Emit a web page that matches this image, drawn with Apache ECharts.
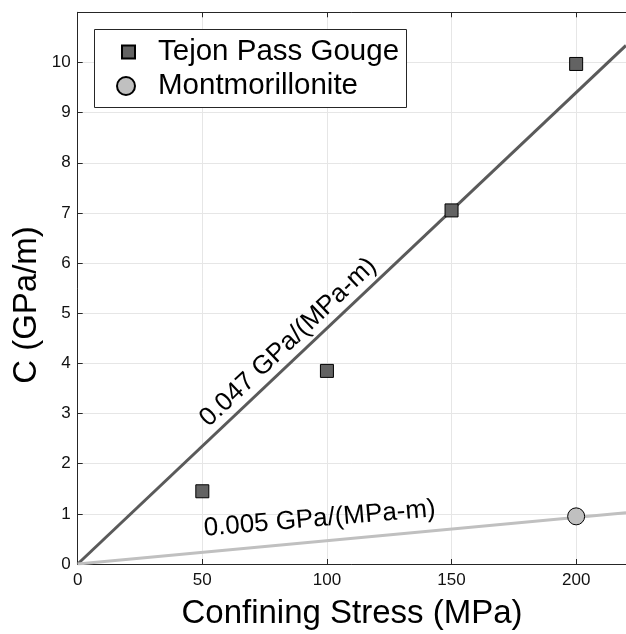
<!DOCTYPE html>
<html>
<head>
<meta charset="utf-8">
<script src="https://cdn.jsdelivr.net/npm/echarts@6/dist/echarts.min.js"></script>
<style>
html,body{margin:0;padding:0;background:#fff;}
#chart{width:626px;height:634px;}
</style>
</head>
<body>
<div id="chart"></div>
<script>
// ---- data ----
const tejonStress = [50, 100, 150, 200];
const tejonC = [1.45, 3.85, 7.05, 9.97];
const montStress = [200];
const montC = [0.95];
const fitStress = [0, 220];
const fitTejon = [0, 10.34];
const fitMont = [0, 1.02];
const seriesNames = ['Tejon Pass Gouge', 'Montmorillonite'];
const slopeLabelText = ['0.047 GPa/(MPa-m)', '0.005 GPa/(MPa-m)'];
const slopeLabelAnchor = [[84.5, 4.42], [97.1, 0.9]]; // data coords of label centres
const slopeLabelAngle = [43.5, 4.8];
const xTitle = 'Confining Stress (MPa)';
const yTitle = 'C (GPa/m)';

const FONT = "'Liberation Sans', Arial, Helvetica, sans-serif";
const AX = '#262626';

const chart = echarts.init(document.getElementById('chart'), null, {renderer: 'canvas'});

const zip = (a, b) => a.map((v, i) => [v, b[i]]);

const option = {
  animation: false,
  backgroundColor: '#fff',
  textStyle: {fontFamily: FONT},
  grid: {left: 77.7, top: 12.3, bottom: 70, right: -4.3, containLabel: false},
  xAxis: [{
    type: 'value', min: 0, max: 220, interval: 50,
    axisLine: {show: true, onZero: false, lineStyle: {color: AX, width: 1}},
    axisTick: {show: true, inside: true, length: 5, lineStyle: {color: AX}},
    axisLabel: {show: true, showMaxLabel: false, color: '#111', fontSize: 17, fontFamily: FONT, margin: 8},
    splitLine: {show: true, lineStyle: {color: '#e6e6e6', width: 1}}
  }, {
    type: 'value', position: 'top', min: 0, max: 220, interval: 50,
    axisLine: {show: true, onZero: false, lineStyle: {color: AX, width: 1}},
    axisTick: {show: true, inside: true, length: 5, lineStyle: {color: AX}},
    axisLabel: {show: false},
    splitLine: {show: false}
  }],
  yAxis: [{
    type: 'value', min: 0, max: 11, interval: 1,
    axisLine: {show: true, onZero: false, lineStyle: {color: AX, width: 1}},
    axisTick: {show: true, inside: true, length: 5, lineStyle: {color: AX}},
    axisLabel: {show: true, showMaxLabel: false, color: '#111', fontSize: 17, fontFamily: FONT, margin: 7},
    splitLine: {show: true, lineStyle: {color: '#e6e6e6', width: 1}}
  }],
  legend: [{
    data: [seriesNames[0]],
    left: 121, top: 37, padding: 0,
    itemWidth: 13, itemHeight: 13,
    textStyle: {fontSize: 29.5, color: '#000', fontFamily: FONT, padding: [0, 0, 0, 18]},
    selectedMode: false, z: 10
  }, {
    data: [seriesNames[1]],
    left: 116, top: 71, padding: 0,
    itemWidth: 18, itemHeight: 18,
    textStyle: {fontSize: 29.5, color: '#000', fontFamily: FONT, padding: [0, 0, 0, 18]},
    selectedMode: false, z: 10
  }],
  series: [{
    name: 'fitTejon', type: 'line', data: zip(fitStress, fitTejon),
    symbol: 'none', lineStyle: {color: '#5a5a5a', width: 3}, z: 2, silent: true
  }, {
    name: 'fitMont', type: 'line', data: zip(fitStress, fitMont),
    symbol: 'none', lineStyle: {color: '#c0c0c0', width: 3}, z: 2, silent: true
  }, {
    name: seriesNames[0], type: 'scatter', data: zip(tejonStress, tejonC),
    symbol: 'rect', symbolSize: 13,
    itemStyle: {color: '#636363', borderColor: '#000', borderWidth: 1, opacity: 1}, z: 3
  }, {
    name: seriesNames[1], type: 'scatter', data: zip(montStress, montC),
    symbol: 'circle', symbolSize: 17,
    itemStyle: {color: '#c0c0c0', borderColor: '#000', borderWidth: 1, opacity: 1}, z: 3
  }]
};
chart.setOption(option);

// annotations & titles
const g = [];
g.push({
  type: 'rect', left: 94, top: 29, z: 8,
  shape: {width: 312, height: 78},
  style: {fill: '#fff', stroke: AX, lineWidth: 1}
});
slopeLabelText.forEach((t, i) => {
  const p = chart.convertToPixel({gridIndex: 0}, slopeLabelAnchor[i]);
  g.push({
    type: 'text', x: p[0], y: p[1], rotation: slopeLabelAngle[i] * Math.PI / 180, z: 6,
    style: {text: t, font: '26px ' + FONT, fill: '#000', align: 'center', verticalAlign: 'middle'}
  });
});
g.push({
  type: 'text', x: 352, y: 614, z: 6,
  style: {text: xTitle, font: '33px ' + FONT, fill: '#000', align: 'center', verticalAlign: 'middle'}
});
g.push({
  type: 'text', x: 27, y: 305, rotation: Math.PI / 2, z: 6,
  style: {text: yTitle, font: '33px ' + FONT, fill: '#000', align: 'center', verticalAlign: 'middle'}
});
chart.setOption({graphic: g});
</script>
</body>
</html>
